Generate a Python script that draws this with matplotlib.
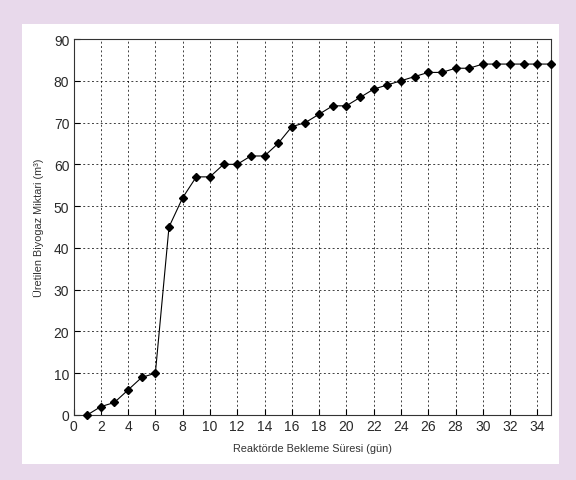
import matplotlib.pyplot as plt
from matplotlib.patches import Rectangle

plt.rcParams['font.family'] = ['Liberation Sans', 'DejaVu Sans']

# Biyogaz üretimi (günlük kümülatif)
gun = list(range(1, 36))
biyogaz = [0, 2, 3, 6, 9, 10, 45, 52, 57, 57, 60, 60, 62, 62, 65, 69, 70, 72,
           74, 74, 76, 78, 79, 80, 81, 82, 82, 83, 83, 84, 84, 84, 84, 84, 84]

fig = plt.figure(figsize=(5.76, 4.81), dpi=100, facecolor='#e8d9eb')
# beyaz panel
fig.patches.append(Rectangle((22 / 576, 16 / 481), 537 / 576, 440 / 481,
                             transform=fig.transFigure, facecolor='white',
                             edgecolor='none', zorder=-5))

ax = fig.add_axes([73.5 / 576, 65 / 481, 477.5 / 576, 376 / 481])
ax.set_zorder(2)
ax.plot(gun, biyogaz, color='black', lw=0.8, marker='D', markersize=3.8,
        markerfacecolor='black', clip_on=False, zorder=3)

ax.set_xlim(0, 35)
ax.set_ylim(0, 90)
ax.set_xticks(range(0, 35, 2))
ax.set_yticks(range(0, 91, 10))
ax.tick_params(direction='in', length=4, labelsize=10, color='black',
               labelcolor='#2a2a2a', pad=3)
ax.grid(True, color='black', linestyle=(0, (2, 2.5)), lw=0.7, alpha=0.75)
for s in ax.spines.values():
    s.set_linewidth(0.8)
    s.set_color('#333333')

ax.set_xlabel('Reaktörde Bekleme Süresi (gün)', fontsize=7.8, color='#333333', labelpad=7)
ax.set_ylabel('Üretilen Biyogaz Miktari (m³)', fontsize=7.8, color='#333333', labelpad=7)

fig.savefig('out.png', dpi=100, facecolor=fig.get_facecolor())
